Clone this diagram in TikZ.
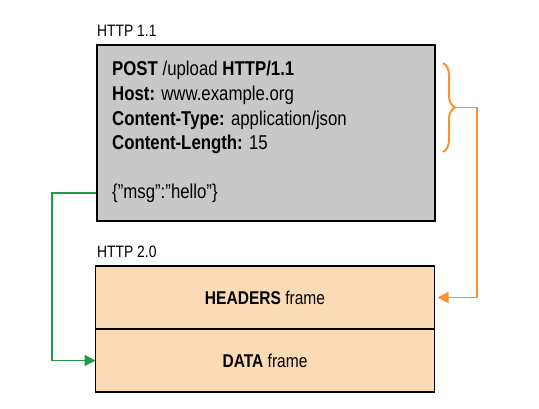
\documentclass[tikz,border=0pt]{standalone}
\usepackage{fontspec}
\setmainfont[FakeStretch=0.84]{Liberation Sans}
\usepackage{tikz}
\usetikzlibrary{arrows.meta,positioning,calc,decorations.pathreplacing}
\definecolor{reqgrey}{HTML}{C8C8C8}
\definecolor{framepeach}{HTML}{FADBB5}
\definecolor{hdrorange}{HTML}{F7922E}
\definecolor{datagreen}{HTML}{1E9A46}

\begin{document}
\begin{tikzpicture}[x=1pt, y=-1pt,
  node distance=0pt,
  every node/.style={font=\fontsize{20}{24.7}\selectfont},
  lbl/.style={font=\fontsize{16.5}{18}\selectfont, anchor=south west, inner sep=0pt},
  frame/.style={draw, line width=1.6pt, fill=framepeach, minimum width=339pt,
    minimum height=63pt, outer sep=0pt, inner sep=0pt,
    font=\fontsize{18.5}{20}\selectfont},
  link/.style={line width=1.6pt, -{Triangle[length=11pt,width=11pt]}}]
\useasboundingbox (0,0) rectangle (539,408);
\node[draw, line width=1.6pt, fill=reqgrey, minimum width=338pt, minimum height=176pt,
  anchor=north west, inner sep=0pt] (req) at (96,44) {};
\node[lbl] (v11) at (97,37) {HTTP 1.1};
\node[anchor=north west, align=left, inner sep=0pt] (hdrs) at (112,61)
  {\textbf{POST} /upload \textbf{HTTP/1.1}\\
   \textbf{Host:} www.example.org\\
   \textbf{Content-Type:} application/json\\
   \textbf{Content-Length:} 15};
\node[anchor=west, inner sep=0pt] (body) at (112,193) {\{”msg”:”hello”\}};
\node[frame, anchor=north west] (hdr) at (95.5,266) {\textbf{HEADERS} frame};
\node[frame, below=of hdr] (data) {\textbf{DATA} frame};
\node[lbl] (v20) at (97,258) {HTTP 2.0};
% header block -> HEADERS frame
\draw[hdrorange, line width=2pt, decorate,
  decoration={brace, amplitude=12pt}] (443,63) -- (443,152);
\coordinate (tip) at (455,107.5);
\draw[link, hdrorange] (tip) -- ++(22,0) |- ([xshift=3pt]hdr.east);
% body -> DATA frame
\draw[link, datagreen] (req.west |- body.west) -- ++(-44,0) |- (data.west);
\end{tikzpicture}
\end{document}
